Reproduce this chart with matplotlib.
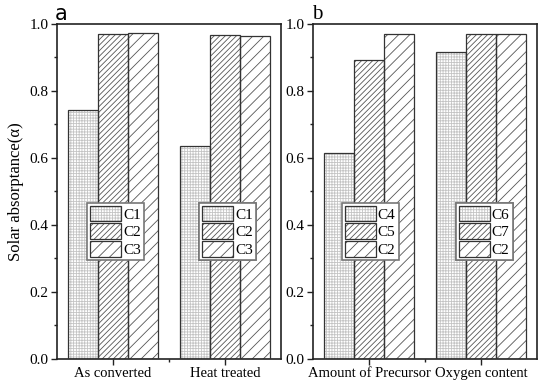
import matplotlib
matplotlib.use("Agg")
import matplotlib.pyplot as plt
import numpy as np
from matplotlib.legend_handler import HandlerTuple
from matplotlib.ticker import MultipleLocator, FixedLocator

plt.rcParams['font.family'] = ['Liberation Serif', 'DejaVu Serif']
plt.rcParams['hatch.linewidth'] = 0.6

# Panel a
cats_a = ["As converted", "Heat treated"]
labels_a = [["C1", "C2", "C3"], ["C1", "C2", "C3"]]
vals_a = [[0.743, 0.970, 0.972],   # group 1: C1, C2, C3
          [0.635, 0.967, 0.965]]   # group 2
# Panel b
cats_b = ["Amount of Precursor", "Oxygen content"]
labels_b = [["C4", "C5", "C2"], ["C6", "C7", "C2"]]
vals_b = [[0.615, 0.893, 0.970],
          [0.915, 0.970, 0.970]]

hatches = ['++++++', '//////', '///']
hatch_cols = ['#c4c4c4', '#555555', '#555555']
edge = '#333333'

fig = plt.figure(figsize=(5.5, 3.91), dpi=100)
ax_a = fig.add_axes([57/550, 1-358.5/391, 224/550, 334.5/391])
ax_b = fig.add_axes([313/550, 1-358.5/391, 224/550, 334.5/391])

width = 0.267
leg_x = [[0.134, 0.634], [0.129, 0.638]]


def hatched_bar(ax, xpos, val, i):
    p = ax.bar([xpos], [val], width, color='white', edgecolor=hatch_cols[i],
               linewidth=0, hatch=[hatches[i]], zorder=2).patches[0]
    if hasattr(p, 'set_hatchcolor'):
        p.set_hatchcolor(hatch_cols[i])
    return p


def draw(ax, cats, labels, vals, lxs):
    x = np.arange(len(cats))
    for g in range(len(cats)):
        handles = []
        for i in range(3):
            xpos = x[g] + (i - 1) * width
            p1 = hatched_bar(ax, xpos, vals[g][i], i)
            p2 = ax.bar([xpos], [vals[g][i]], width, fill=False, edgecolor=edge,
                        linewidth=0.9, zorder=3).patches[0]
            handles.append((p1, p2))
        leg = ax.legend(handles, labels[g],
                        handler_map={tuple: HandlerTuple(ndivide=1, pad=0)},
                        loc='upper left', bbox_to_anchor=(lxs[g], 0.466), borderaxespad=0,
                        frameon=True, fancybox=False, edgecolor='#777777', framealpha=1,
                        handlelength=2.0, handleheight=1.2, labelspacing=0.12,
                        handletextpad=0.15, borderpad=0.2, fontsize=11)
        leg.get_frame().set_linewidth(1.2)
        leg.set_zorder(5)
        ax.add_artist(leg)
    ax.set_xlim(-0.5, 1.5)
    ax.set_ylim(0, 1.0)
    ax.set_xticks(x)
    ax.set_xticklabels(cats, fontsize=10.5)
    ax.xaxis.set_minor_locator(FixedLocator([0.5]))
    ax.yaxis.set_minor_locator(MultipleLocator(0.1))
    yt = np.arange(0, 1.01, 0.2)
    ax.set_yticks(yt)
    ax.set_yticklabels(["%.1f" % v for v in yt], fontsize=11)
    ax.tick_params(which='major', direction='out', length=4, width=1, color='#222222', pad=2)
    ax.tick_params(which='minor', direction='out', length=2.5, width=1, color='#222222')
    for s in ax.spines.values():
        s.set_linewidth(1.2)
        s.set_color('#222222')


draw(ax_a, cats_a, labels_a, vals_a, leg_x[0])
draw(ax_b, cats_b, labels_b, vals_b, leg_x[1])

ax_a.set_ylabel("Solar absorptance(α)", fontsize=12, labelpad=4)
ax_a.text(-0.01, 1.0, "a", transform=ax_a.transAxes, ha='left', va='bottom',
          fontsize=15, family='DejaVu Sans')
ax_b.text(-0.004, 1.0, "b", transform=ax_b.transAxes, ha='left', va='bottom',
          fontsize=15, family='Liberation Serif')

fig.savefig("out.png", dpi=100)
